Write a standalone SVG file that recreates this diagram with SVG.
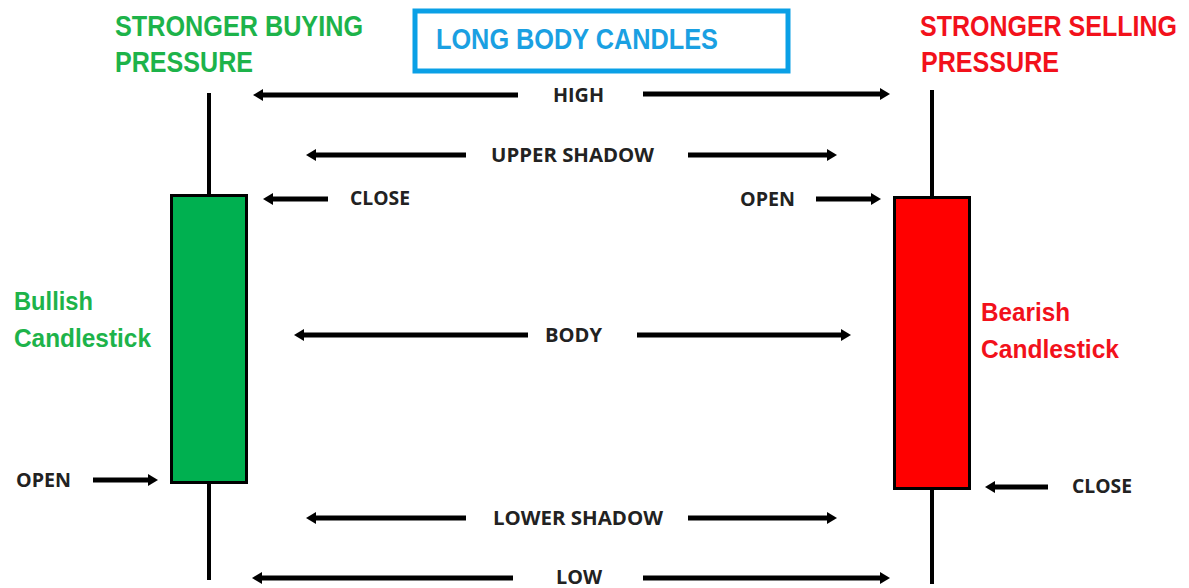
<svg xmlns="http://www.w3.org/2000/svg" width="1189" height="588" viewBox="0 0 1189 588">
  <style>
    .hdr { font-family: "Liberation Sans", Arial, sans-serif; font-weight: bold; font-size: 29px; }
    .green { fill: #1db34a; }
    .red { fill: #f2111b; }
    .blue { fill: #1aa0e2; }
    .side { font-family: "Liberation Sans", Arial, sans-serif; font-weight: bold; font-size: 26px; }
    .lbl { font-family: "Open Sans", "Liberation Sans", sans-serif; font-weight: bold; font-size: 19px; fill: #222222; }
    .arr { stroke: #000000; stroke-width: 5; fill: none; marker-end: url(#ah); }
    .wick { stroke: #000000; stroke-width: 4; }
    .body { stroke: #000000; stroke-width: 3; }
  </style>
  <defs>
    <marker id="ah" viewBox="0 0 10 12" markerWidth="10" markerHeight="12" refX="4" refY="6" orient="auto" markerUnits="userSpaceOnUse">
      <path d="M0,0 L10,6 L0,12 z" fill="#000000"/>
    </marker>
  </defs>
  <rect width="1189" height="588" fill="#ffffff"/>

  <g id="title-box">
    <rect x="415" y="11" width="373" height="60" fill="none" stroke="#0aa0e6" stroke-width="5"/>
    <text class="hdr blue" x="436" y="49" textLength="282" lengthAdjust="spacingAndGlyphs">LONG BODY CANDLES</text>
  </g>

  <g id="buying-label">
    <text class="hdr green" x="115" y="36" textLength="248" lengthAdjust="spacingAndGlyphs">STRONGER BUYING</text>
    <text class="hdr green" x="115" y="72" textLength="138" lengthAdjust="spacingAndGlyphs">PRESSURE</text>
  </g>

  <g id="selling-label">
    <text class="hdr red" transform="translate(920,36) scale(0.88,1)" x="0" y="0" textLength="292" lengthAdjust="spacingAndGlyphs">STRONGER SELLING</text>
    <text class="hdr red" x="921" y="72" textLength="138" lengthAdjust="spacingAndGlyphs">PRESSURE</text>
  </g>

  <g id="bullish-label">
    <text class="side green" x="14" y="310" textLength="79" lengthAdjust="spacingAndGlyphs">Bullish</text>
    <text class="side green" x="14" y="347" textLength="137" lengthAdjust="spacingAndGlyphs">Candlestick</text>
  </g>

  <g id="bearish-label">
    <text class="side red" x="981" y="321" textLength="89" lengthAdjust="spacingAndGlyphs">Bearish</text>
    <text class="side red" x="981" y="358" textLength="138" lengthAdjust="spacingAndGlyphs">Candlestick</text>
  </g>

  <g id="bullish-candle">
    <line class="wick" x1="209" y1="93" x2="209" y2="580"/>
    <rect class="body" x="171.5" y="195.5" width="75" height="287" fill="#00b050"/>
  </g>

  <g id="bearish-candle">
    <line class="wick" x1="932" y1="90" x2="932" y2="584"/>
    <rect class="body" x="894.5" y="197.5" width="75" height="291" fill="#ff0000"/>
  </g>

  <g id="labels">
    <text class="lbl" x="553" y="102" textLength="51" lengthAdjust="spacingAndGlyphs">HIGH</text>
    <text class="lbl" x="491" y="162" textLength="163" lengthAdjust="spacingAndGlyphs">UPPER SHADOW</text>
    <text class="lbl" x="350" y="205" textLength="60" lengthAdjust="spacingAndGlyphs">CLOSE</text>
    <text class="lbl" x="740" y="206" textLength="55" lengthAdjust="spacingAndGlyphs">OPEN</text>
    <text class="lbl" x="545" y="342" textLength="57" lengthAdjust="spacingAndGlyphs">BODY</text>
    <text class="lbl" x="16" y="487" textLength="55" lengthAdjust="spacingAndGlyphs">OPEN</text>
    <text class="lbl" x="1072" y="493" textLength="60" lengthAdjust="spacingAndGlyphs">CLOSE</text>
    <text class="lbl" x="493" y="525" textLength="170" lengthAdjust="spacingAndGlyphs">LOWER SHADOW</text>
    <text class="lbl" x="556" y="584" textLength="46" lengthAdjust="spacingAndGlyphs">LOW</text>
  </g>

  <g id="connectors">
    <line class="arr" x1="518" y1="95" x2="259" y2="95"/>
    <line class="arr" x1="643" y1="94" x2="884" y2="94"/>
    <line class="arr" x1="466" y1="155" x2="312" y2="155"/>
    <line class="arr" x1="688" y1="155" x2="831" y2="155"/>
    <line class="arr" x1="328" y1="199" x2="269" y2="199"/>
    <line class="arr" x1="816" y1="199" x2="875" y2="199"/>
    <line class="arr" x1="528" y1="335" x2="300" y2="335"/>
    <line class="arr" x1="637" y1="335" x2="845" y2="335"/>
    <line class="arr" x1="93" y1="480" x2="152" y2="480"/>
    <line class="arr" x1="1048" y1="487" x2="991" y2="487"/>
    <line class="arr" x1="466" y1="518" x2="312" y2="518"/>
    <line class="arr" x1="688" y1="518" x2="831" y2="518"/>
    <line class="arr" x1="513" y1="578" x2="258" y2="578"/>
    <line class="arr" x1="643" y1="578" x2="884" y2="578"/>
  </g>
</svg>
